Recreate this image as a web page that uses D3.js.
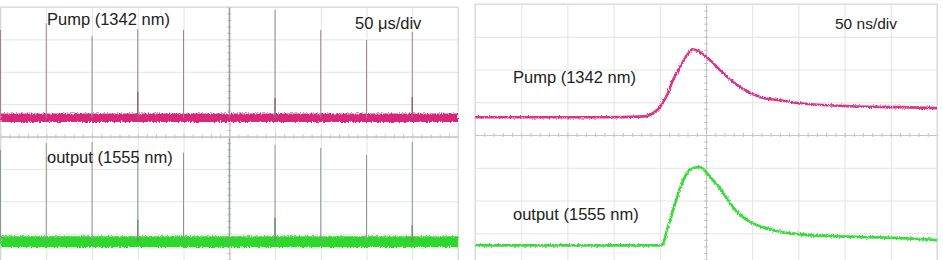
<!DOCTYPE html>
<html>
<head>
<meta charset="utf-8">
<script src="https://cdn.jsdelivr.net/npm/d3@7"></script>
<style>
  body { margin: 0; background: #fff; }
  svg { display: block; font-family: "Liberation Sans", Arial, sans-serif; }
  .grid line { stroke: #e4e4e4; }
  .grid path { display: none; }
  .frame { fill: none; stroke: #d6d6d6; }
  .center path { stroke: #c6c6c6; }
  .center line { stroke: #c2c2c2; }
  .label { font-size: 16.5px; fill: #222; }
</style>
</head>
<body>
<div id="chart"></div>
<script>
// ---- data ----
// vertical values are in screen divisions, 0 = centre line
const divTicks = [-4, -3, -2, -1, 0, 1, 2, 3, 4];

// left scope, 50 us/div
const slowTicks = [0, 50, 100, 150, 200, 250, 300, 350, 400, 450, 500];
const spikeTimes = [0, 50, 100, 150, 200, 250, 300, 350, 400, 450];
const pumpSpikeTops = [3.29, 3.5, 3.1, 3.32, 3.29, 3.97, 3.91, 3.29, 2.98, 3.23];
const outSpikeTops = [-0.41, -0.2, -0.17, -0.41, -0.5, -0.04, -0.26, -0.35, -0.57, -0.17];
const strongTimes = [150, 300, 450];
const pumpStrongTops = [1.38, 1.19, 1.22];
const outStrongTops = [-2.57, -2.51, -2.73];
const pumpLevel = 0.58;
const outLevel = -3.25;

// right scope, 50 ns/div
const fastTicks = [0, 50, 100, 150, 200, 250, 300, 350, 400, 450, 500];
const pumpPulseT = [0, 135, 184, 192.6, 200.2, 207.8, 214.3, 221.9, 229.4, 235.9, 243.5, 254.3, 265.2, 286.8, 308.4, 330.1, 351.7, 405.8, 460, 500];
const pumpPulseV = [0.54, 0.54, 0.57, 0.67, 0.85, 1.22, 1.68, 2.07, 2.44, 2.62, 2.53, 2.29, 1.98, 1.46, 1.16, 1.06, 0.97, 0.88, 0.85, 0.82];
const outPulseT = [0, 150, 202.4, 207.8, 214.3, 221.9, 229.4, 235.9, 243.5, 254.3, 265.2, 279.2, 290, 300.9, 316, 333.3, 351.7, 387.4, 424.2, 460, 500];
const outPulseV = [-3.37, -3.37, -3.37, -2.91, -2.3, -1.63, -1.17, -1.01, -0.98, -1.28, -1.63, -2.21, -2.51, -2.7, -2.85, -2.97, -3.03, -3.09, -3.12, -3.15, -3.21];

const pink = '#d9287a', green = '#2fd62f';

const svg = d3.select('#chart').append('svg')
  .attr('width', 943)
  .attr('height', 260);

// trace roughness (rendering only)
function jitter(id, scale) {
  const f = svg.append('defs').append('filter')
    .attr('id', id)
    .attr('filterUnits', 'userSpaceOnUse')
    .attr('x', -20).attr('y', -20).attr('width', 990).attr('height', 310);
  f.append('feTurbulence')
    .attr('type', 'fractalNoise')
    .attr('baseFrequency', '0.9 0.6')
    .attr('numOctaves', 1)
    .attr('seed', 4);
  f.append('feDisplacementMap')
    .attr('in', 'SourceGraphic')
    .attr('scale', scale)
    .attr('xChannelSelector', 'R')
    .attr('yChannelSelector', 'G');
}
jitter('rough', 5);
jitter('fine', 3.5);

function panel(box, xDomain, xTicks) {
  const w = box.x1 - box.x0, h = box.y1 - box.y0;
  const x = d3.scaleLinear().domain(xDomain).range([0, w]);
  const y = d3.scaleLinear().domain([-4, 4]).range([h, 0]);
  const g = svg.append('g').attr('transform', `translate(${box.x0},${box.y0})`);

  g.append('g').attr('class', 'grid')
    .call(d3.axisBottom(x).tickValues(xTicks).tickSize(h).tickFormat(''));
  g.append('g').attr('class', 'grid')
    .call(d3.axisRight(y).tickValues(divTicks).tickSize(w).tickFormat(''));

  // centre lines with fifth-division marks
  const mid = (xDomain[0] + xDomain[1]) / 2;
  const xMinor = d3.range(xDomain[0], xDomain[1] + 1e-6, (xDomain[1] - xDomain[0]) / 50);
  const yMinor = d3.range(-4, 4.0001, 0.2);
  [-1, 1].forEach(s => {
    g.append('g').attr('class', 'center')
      .attr('transform', `translate(0,${y(0)})`)
      .call(d3.axisBottom(x).tickValues(xMinor).tickSize(2 * s).tickSizeOuter(0).tickFormat(''));
    g.append('g').attr('class', 'center')
      .attr('transform', `translate(${x(mid)},0)`)
      .call(d3.axisRight(y).tickValues(yMinor).tickSize(2 * s).tickSizeOuter(0).tickFormat(''));
  });

  g.append('rect').attr('class', 'frame').attr('width', w).attr('height', h);
  return { g, x, y };
}

// ---- left: pulse train ----
const L = panel({ x0: 0.5, x1: 458, y0: 7, y1: 266 }, [0, 500], slowTicks);
const flat = v => d3.line().x(d => L.x(d)).y(() => L.y(v))(slowTicks);

L.g.append('path').attr('d', flat(pumpLevel))
  .attr('fill', 'none').attr('stroke', pink).attr('stroke-width', 8.5)
  .attr('filter', 'url(#rough)');
L.g.append('path').attr('d', flat(outLevel))
  .attr('fill', 'none').attr('stroke', green).attr('stroke-width', 11)
  .attr('filter', 'url(#rough)');

function spikes(times, tops, base, color, width) {
  L.g.append('g').selectAll('line')
    .data(times)
    .enter().append('line')
    .attr('x1', d => L.x(d)).attr('x2', d => L.x(d))
    .attr('y1', L.y(base))
    .attr('y2', (d, i) => L.y(tops[i]))
    .attr('stroke', color)
    .attr('stroke-width', width);
}
spikes(spikeTimes, pumpSpikeTops, pumpLevel, '#9c8590', 1);
spikes(strongTimes, pumpStrongTops, pumpLevel, '#8a6676', 1.4);
spikes(spikeTimes, outSpikeTops, outLevel, '#8a9a8a', 1);
spikes(strongTimes, outStrongTops, outLevel, '#708a70', 1.4);

// ---- right: single pulse ----
const R = panel({ x0: 475, x1: 937, y0: 4, y1: 266 }, [0, 500], fastTicks);
const trace = d3.line()
  .x(d => R.x(d[0]))
  .y(d => R.y(d[1]))
  .curve(d3.curveMonotoneX);

R.g.append('path').attr('d', trace(d3.zip(pumpPulseT, pumpPulseV)))
  .attr('fill', 'none').attr('stroke', '#dc3584').attr('stroke-width', 2.6)
  .attr('filter', 'url(#fine)');
R.g.append('path').attr('d', trace(d3.zip(outPulseT, outPulseV)))
  .attr('fill', 'none').attr('stroke', '#3cda3c').attr('stroke-width', 2.8)
  .attr('filter', 'url(#fine)');

// ---- labels ----
const labels = [
  { text: 'Pump (1342 nm)', x: 47, y: 25 },
  { text: '50 \u03bcs/div', x: 355, y: 29 },
  { text: 'output (1555 nm)', x: 47, y: 163 },
  { text: 'Pump (1342 nm)', x: 513, y: 83 },
  { text: '50 ns/div', x: 835, y: 29, size: 15.5 },
  { text: 'output (1555 nm)', x: 513, y: 220 }
];
svg.append('g').selectAll('text')
  .data(labels)
  .enter().append('text')
  .attr('class', 'label')
  .attr('x', d => d.x)
  .attr('y', d => d.y)
  .style('font-size', d => d.size ? d.size + 'px' : null)
  .text(d => d.text);
</script>
</body>
</html>
